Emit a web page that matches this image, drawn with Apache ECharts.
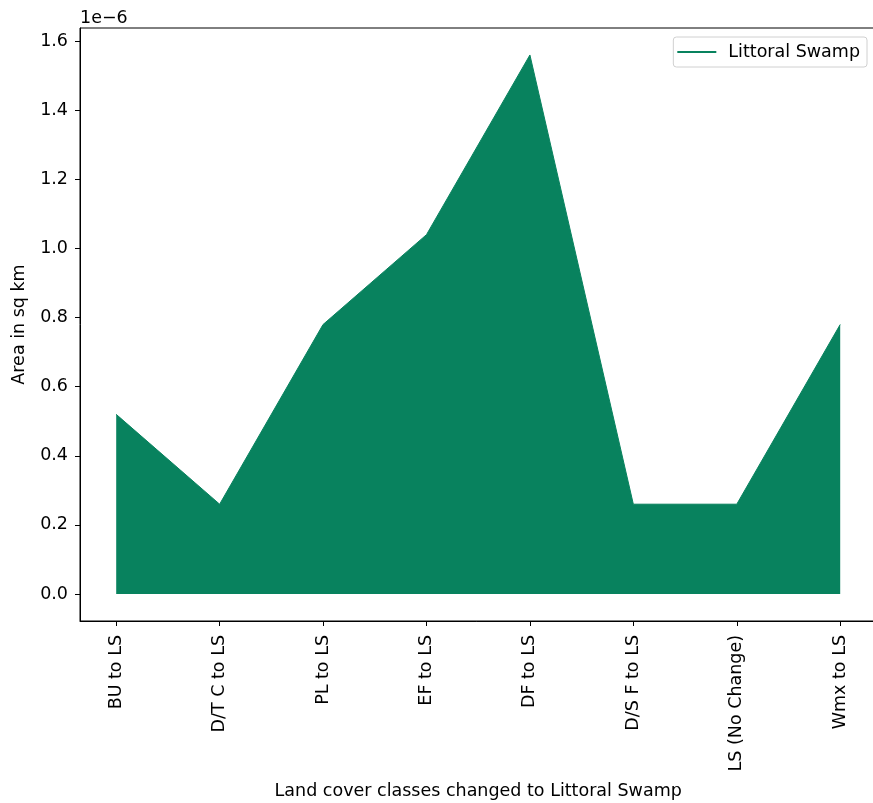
<!DOCTYPE html>
<html><head><meta charset="utf-8">
<script src="https://cdn.jsdelivr.net/npm/echarts@6/dist/echarts.min.js"></script>
<style>html,body{margin:0;padding:0;background:#fff}#c{width:873px;height:803px}</style>
</head><body><div id="c"></div>
<script>
const categories = ["BU to LS","D/T C to LS","PL to LS","EF to LS","DF to LS","D/S F to LS","LS (No Change)","Wmx to LS"];
const values = [0.52e-6,0.26e-6,0.78e-6,1.04e-6,1.56e-6,0.26e-6,0.26e-6,0.78e-6];
const yTicks = [0,0.2e-6,0.4e-6,0.6e-6,0.8e-6,1.0e-6,1.2e-6,1.4e-6,1.6e-6];
const seriesName = "Littoral Swamp";
const color = "#08825e";
const font = "DejaVu Sans";
const fs = 17.5;
const xTicks = categories.map((c,i)=>i);
const chart = echarts.init(document.getElementById('c'));
chart.setOption({
  animation:false,
  textStyle:{fontFamily:font},
  grid:{left:80, top:28, width:796.4, height:593, show:true, borderColor:'#000', borderWidth:1, backgroundColor:'transparent', containLabel:false, outerBoundsMode:'none'},
  legend:{data:[seriesName], right:6, top:37, orient:'vertical', icon:'rect', itemWidth:39, itemHeight:2, itemGap:8,
    backgroundColor:'#fff', borderColor:'#d0d0d0', borderWidth:1, borderRadius:3, padding:[6,7,6,4],
    textStyle:{fontFamily:font, fontSize:fs, color:'#000', padding:[0,0,0,7]}},
  xAxis:{type:'value', min:-0.35, max:7.35,
    name:'Land cover classes changed to Littoral Swamp', nameLocation:'middle', nameGap:161,
    nameTextStyle:{fontFamily:font, fontSize:fs, color:'#000'},
    splitLine:{show:false},
    axisLine:{show:true, onZero:false, lineStyle:{color:'#000', width:1}},
    axisTick:{show:true, length:5, lineStyle:{color:'#000'}, customValues:xTicks},
    axisLabel:{rotate:90, fontFamily:font, fontSize:fs, color:'#000', margin:14, customValues:xTicks,
      formatter:v=>categories[Math.round(v)]}},
  yAxis:{type:'value', min:-0.078e-6, max:1.638e-6,
    name:'Area in sq km', nameLocation:'middle', nameGap:52, nameRotate:90,
    nameTextStyle:{fontFamily:font, fontSize:fs, color:'#000'},
    splitLine:{show:false},
    axisLine:{show:true, onZero:false, lineStyle:{color:'#000', width:1}},
    axisTick:{show:true, length:5, lineStyle:{color:'#000'}, customValues:yTicks},
    axisLabel:{fontFamily:font, fontSize:fs, color:'#000', margin:12, customValues:yTicks,
      formatter:v=>(v/1e-6).toFixed(1)}},
  graphic:[{type:'text', left:80, top:9, style:{text:'1e\u22126', font:fs+'px "DejaVu Sans"', fill:'#000'}}],
  series:[{name:seriesName, type:'line', data:values.map((v,i)=>[i,v]), showSymbol:false,
    itemStyle:{color:color}, lineStyle:{color:color, width:1}, areaStyle:{color:color, opacity:1, origin:0}}]
});
</script></body></html>
